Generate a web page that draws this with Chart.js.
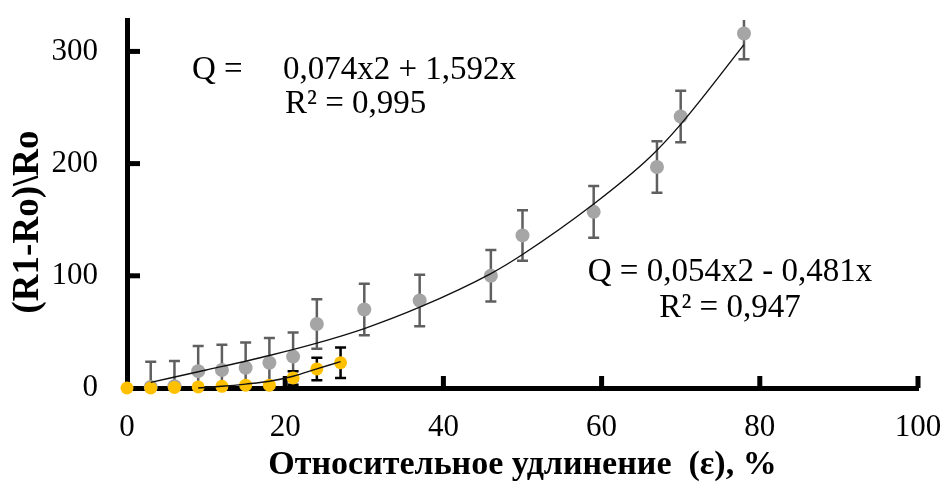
<!DOCTYPE html>
<html><head><meta charset="utf-8">
<script src="https://cdn.jsdelivr.net/npm/chart.js@4/dist/chart.umd.min.js"></script>
<style>html,body{margin:0;padding:0;background:#fff;}</style>
</head><body>
<canvas id="c" width="952" height="490"></canvas>
<script>
// ---- data ----
const grayX   = [3, 6, 9, 12, 15, 18, 21, 24, 30, 37, 46, 50, 59, 67, 70, 78];
const grayY   = [1, 1.5, 15, 16, 18, 22.5, 28, 57, 70, 78, 100, 136, 157, 197, 242, 316];
const grayErr = [22.5, 22.5, 22.5, 22.5, 22.5, 22, 21.5, 22, 23, 23, 23, 22.5, 23, 23, 23, 23];
const orangeX   = [0, 3, 6, 9, 12, 15, 18, 21, 24, 27];
const orangeY   = [0, 0, 0.5, 1, 1.5, 2.5, 2.5, 9, 17, 22.5];
const orangeErr = [0, 0, 0, 0, 0, 0, 0, 6, 10, 13.5];
const grayTrendX   = [3, 10, 18, 24, 30, 37, 46, 50, 59, 66, 70, 78];
const grayTrendY   = [5, 16, 29, 40, 53, 72, 102, 119, 164, 205, 235, 306];
const orangeTrendX = [9, 12, 15, 18, 21, 24, 27];
const orangeTrendY = [0, 1.5, 3.5, 6, 10.5, 17, 23.5];
const xTickValues = [0, 20, 40, 60, 80, 100];
const yTickValues = [0, 100, 200, 300];
const xTitle = 'Относительное удлинение  (ε), %';
const yTitle = '(R1-Ro)\\Ro';
const eq1a = 'Q =', eq1b = '0,074x2 + 1,592x', eq1c = 'R² = 0,995';
const eq2a = 'Q = 0,054x2 - 0,481x', eq2b = 'R² = 0,947';

const toPts = (xs, ys) => xs.map((x, i) => ({x: x, y: ys[i]}));
const SERIF = '"Liberation Serif", "Times New Roman", serif';

const errorBars = {
  id: 'errorBars',
  beforeDatasetDraw(chart, args) {
    const ds = chart.data.datasets[args.index];
    if (!ds.errors) return;
    const {ctx, chartArea} = chart;
    const xs = chart.scales.x, ys = chart.scales.y;
    ctx.save();
    ctx.beginPath();
    ctx.rect(chartArea.left - 10, chartArea.top, chartArea.width + 20, chartArea.height);
    ctx.clip();
    ctx.strokeStyle = ds.errorColor;
    ctx.lineWidth = 2.5;
    ds.data.forEach((p, i) => {
      const e = ds.errors[i];
      if (!e) return;
      const px = xs.getPixelForValue(p.x);
      const top = ys.getPixelForValue(p.y + e);
      const bot = ys.getPixelForValue(p.y - e);
      ctx.beginPath();
      ctx.moveTo(px, top); ctx.lineTo(px, bot);
      ctx.moveTo(px - 5.5, top); ctx.lineTo(px + 5.5, top);
      ctx.moveTo(px - 5.5, bot); ctx.lineTo(px + 5.5, bot);
      ctx.stroke();
    });
    ctx.restore();
  }
};

const tickMarks = {
  id: 'tickMarks',
  beforeDatasetsDraw(chart) {
    const {ctx, chartArea} = chart;
    const xs = chart.scales.x, ys = chart.scales.y;
    ctx.save();
    ctx.strokeStyle = '#000';
    ctx.lineWidth = 5;
    yTickValues.slice(1).forEach(v => {
      const py = ys.getPixelForValue(v);
      ctx.beginPath(); ctx.moveTo(chartArea.left, py); ctx.lineTo(chartArea.left + 13, py); ctx.stroke();
    });
    xTickValues.slice(1).forEach(v => {
      const px = xs.getPixelForValue(v);
      ctx.beginPath(); ctx.moveTo(px, chartArea.bottom); ctx.lineTo(px, chartArea.bottom - 12); ctx.stroke();
    });
    ctx.restore();
  }
};

const texts = {
  id: 'texts',
  afterDraw(chart) {
    const ctx = chart.ctx;
    ctx.save();
    ctx.fillStyle = '#000';
    ctx.textBaseline = 'alphabetic';
    ctx.font = '33px ' + SERIF;
    ctx.textAlign = 'left';
    ctx.fillText(eq1a, 192, 79);
    ctx.fillText(eq1b, 283, 79);
    ctx.fillText(eq1c, 285, 113);
    ctx.textAlign = 'center';
    ctx.fillText(eq2a, 730, 281);
    ctx.fillText(eq2b, 730, 317);
    ctx.translate(28, 222);
    ctx.rotate(-Math.PI / 2);
    ctx.font = 'bold 37px ' + SERIF;
    ctx.textBaseline = 'middle';
    ctx.fillText(yTitle, 0, 0);
    ctx.restore();
  }
};

const setTicks = values => s => { s.ticks = values.map(v => ({value: v})); };

new Chart(document.getElementById('c'), {
  type: 'scatter',
  data: {
    datasets: [
      {
        data: toPts(grayTrendX, grayTrendY), showLine: true, pointRadius: 0,
        borderColor: '#111', borderWidth: 1.4, cubicInterpolationMode: 'monotone',
        order: 0, clip: false
      },
      {
        data: toPts(orangeTrendX, orangeTrendY), showLine: true, pointRadius: 0,
        borderColor: '#111', borderWidth: 1.4, cubicInterpolationMode: 'monotone',
        order: 0, clip: false
      },
      {
        data: toPts(orangeX, orangeY), errors: orangeErr, errorColor: '#000',
        pointRadius: 6.5, pointBackgroundColor: '#FFC000', pointBorderColor: '#FFC000', pointBorderWidth: 0,
        order: 1, clip: false
      },
      {
        data: toPts(grayX, grayY), errors: grayErr, errorColor: '#5f5f5f',
        pointRadius: 7, pointBackgroundColor: '#A5A5A5', pointBorderColor: '#A5A5A5', pointBorderWidth: 0,
        order: 2, clip: false
      }
    ]
  },
  options: {
    responsive: false,
    animation: false,
    devicePixelRatio: 1,
    layout: {padding: {top: 20, right: 34, bottom: 0, left: 0}},
    plugins: {legend: {display: false}, tooltip: {enabled: false}},
    scales: {
      x: {
        type: 'linear', min: 0, max: 100,
        afterBuildTicks: setTicks(xTickValues),
        ticks: {color: '#000', padding: 21, font: {family: SERIF, size: 31}},
        grid: {display: false, drawTicks: false},
        border: {display: true, width: 5, color: '#000'},
        title: {display: true, text: xTitle, color: '#000', padding: {top: 0, bottom: 4}, font: {family: SERIF, size: 34, weight: 'bold'}},
        afterFit(s) { s.height = 102; s.paddingLeft = 0; s.paddingRight = 0; }
      },
      y: {
        type: 'linear', min: 0, max: 328,
        afterBuildTicks: setTicks(yTickValues),
        ticks: {color: '#000', padding: 29, font: {family: SERIF, size: 31}},
        grid: {display: false, drawTicks: false},
        border: {display: true, width: 5, color: '#000'},
        afterFit(s) { s.width = 127; s.paddingTop = 0; s.paddingBottom = 0; }
      }
    }
  },
  plugins: [errorBars, tickMarks, texts]
});
</script>
</body></html>
